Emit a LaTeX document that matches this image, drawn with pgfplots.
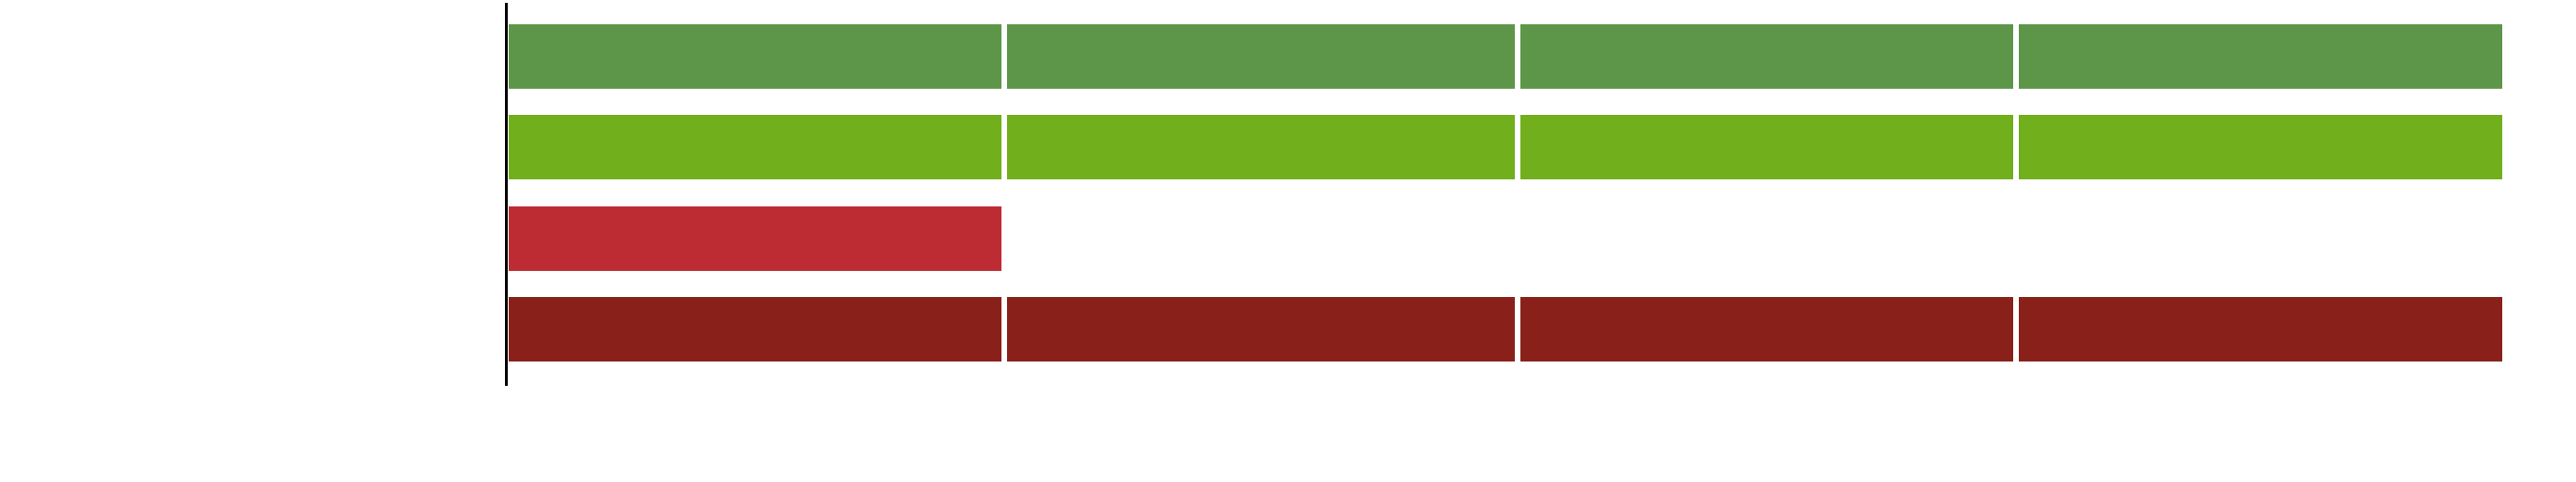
\documentclass[border=0pt]{standalone}
\usepackage{pgfplots}
\pgfplotsset{compat=1.18}
\definecolor{cA}{HTML}{5D9648}
\definecolor{cB}{HTML}{71AF1D}
\definecolor{cC}{HTML}{BE2C33}
\definecolor{cD}{HTML}{89211A}
\pgfplotsset{
  baseaxis/.style={
    at={(135.5pt,25.5pt)}, anchor=south west,
    scale only axis, width=535.5pt, height=102.5pt,
    xmin=0, xmax=2142, ymin=-0.59, ymax=3.622, y dir=reverse,
    xtick=\empty, ytick=\empty,
    xbar stacked, bar width=18.75pt,
  },
  rowaxis/.style={baseaxis, axis lines=none},
  seg/.style={draw=white, line width=1.5pt, fill=#1},
}
\begin{document}
\begin{tikzpicture}
\useasboundingbox (0,0) rectangle (690pt,128.75pt);
% row 0
\begin{axis}[rowaxis]
\addplot[seg=cA] coordinates {(534,0)};
\addplot[seg=cA] coordinates {(550,0)};
\addplot[seg=cA] coordinates {(534,0)};
\addplot[seg=cA] coordinates {(524,0)};
\end{axis}
% row 1
\begin{axis}[rowaxis]
\addplot[seg=cB] coordinates {(534,1)};
\addplot[seg=cB] coordinates {(550,1)};
\addplot[seg=cB] coordinates {(534,1)};
\addplot[seg=cB] coordinates {(524,1)};
\end{axis}
% row 2
\begin{axis}[rowaxis]
\addplot[seg=cC] coordinates {(534,2)};
\end{axis}
% row 3
\begin{axis}[rowaxis]
\addplot[seg=cD] coordinates {(534,3)};
\addplot[seg=cD] coordinates {(550,3)};
\addplot[seg=cD] coordinates {(534,3)};
\addplot[seg=cD] coordinates {(524,3)};
\end{axis}
% axis line
\begin{axis}[baseaxis, axis x line=none, axis y line*=left,
  y axis line style={black, line width=0.75pt}]
\addplot[draw=none, fill=none] coordinates {(0,0)};
\end{axis}
\end{tikzpicture}
\end{document}
